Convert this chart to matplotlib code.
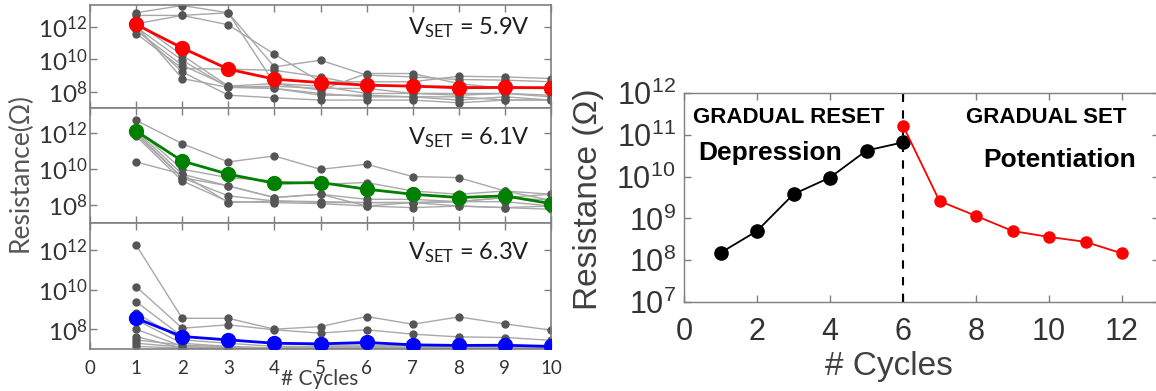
import numpy as np
import matplotlib
matplotlib.use('Agg')
import matplotlib.pyplot as plt
from matplotlib.ticker import LogLocator, NullFormatter

# ---- left panels: log10(resistance) ----
cycles_left = [1, 2, 3, 4, 5, 6, 7, 8, 9, 10]
vset_labels = ['5.9V', '6.1V', '6.3V']

# V_SET = 5.9V
mean_59 = [12.16, 10.71, 9.40, 8.78, 8.57, 8.41, 8.35, 8.25, 8.27, 8.25]
runs_59 = [
    [12.88, 13.33, 12.88, 9.54, 9.95, 9.03, 8.92, 8.76, 8.72, 8.62],
    [12.72, 12.72, 12.14, 10.32, 8.62, 8.62, 8.62, 8.96, 8.92, 8.82],
    [12.20, 12.72, 12.88, 8.51, 8.10, 9.13, 9.13, 8.51, 8.21, 8.21],
    [12.00, 9.95, 8.27, 8.35, 8.21, 8.21, 7.90, 7.79, 7.90, 7.79],
    [11.80, 9.64, 8.35, 8.21, 7.79, 7.79, 7.69, 7.49, 7.69, 7.49],
    [11.60, 9.44, 9.40, 9.33, 8.92, 8.35, 8.35, 8.35, 8.27, 8.27],
    [11.90, 9.23, 7.79, 7.63, 7.49, 7.49, 7.49, 7.32, 7.49, 7.49],
    [12.10, 8.82, 8.27, 8.21, 7.90, 7.69, 7.69, 7.69, 7.49, 7.49],
    [12.30, 10.26, 8.35, 8.51, 8.35, 7.90, 7.90, 7.90, 7.90, 7.69],
]

# V_SET = 6.1V
mean_61 = [12.09, 10.43, 9.70, 9.20, 9.24, 8.87, 8.59, 8.41, 8.50, 8.07]
runs_61 = [
    [12.68, 11.39, 10.38, 10.71, 9.97, 10.25, 9.57, 9.51, 8.77, 8.26],
    [12.20, 9.97, 9.51, 9.33, 9.14, 9.24, 8.77, 8.59, 8.77, 8.59],
    [10.38, 9.70, 9.05, 8.41, 8.59, 8.31, 8.31, 8.18, 8.41, 8.26],
    [12.00, 9.51, 8.50, 8.22, 8.18, 8.13, 8.13, 8.18, 8.18, 7.94],
    [11.80, 9.33, 8.18, 8.13, 8.07, 7.94, 7.85, 7.94, 7.85, 7.76],
    [12.10, 9.70, 8.13, 8.22, 8.13, 8.13, 8.13, 8.18, 8.41, 8.59],
    [11.90, 9.51, 9.05, 8.41, 8.59, 7.94, 8.13, 7.94, 7.85, 7.94],
]

# V_SET = 6.3V
mean_63 = [8.55, 7.63, 7.46, 7.29, 7.26, 7.33, 7.21, 7.18, 7.19, 7.13]
runs_63 = [
    [12.25, 8.55, 8.55, 8.00, 8.13, 8.64, 8.25, 8.62, 8.27, 7.95],
    [10.15, 8.05, 8.22, 7.97, 7.80, 7.97, 7.75, 7.61, 7.58, 7.44],
    [9.39, 7.63, 7.46, 7.29, 7.20, 7.20, 7.15, 7.10, 7.10, 7.10],
    [8.81, 7.46, 7.29, 7.13, 7.13, 7.13, 7.10, 7.10, 7.08, 7.08],
    [8.47, 7.29, 7.13, 7.05, 7.05, 7.10, 7.05, 7.05, 7.05, 7.05],
    [8.00, 7.13, 7.05, 7.03, 7.10, 7.05, 7.03, 7.03, 7.03, 7.03],
    [7.63, 7.05, 7.03, 7.02, 7.02, 7.02, 7.02, 7.02, 7.02, 7.02],
    [7.46, 7.20, 7.10, 7.05, 7.05, 7.05, 7.05, 7.05, 7.05, 7.05],
    [7.29, 7.10, 7.05, 7.02, 7.02, 7.02, 7.02, 7.02, 7.02, 7.02],
    [7.13, 7.05, 7.02, 7.02, 7.02, 7.02, 7.02, 7.02, 7.02, 7.02],
]

# ---- right panel ----
cycles_reset = [1, 2, 3, 4, 5, 6]
res_reset = [1.5e8, 5.0e8, 3.8e9, 9.5e9, 4.2e10, 6.6e10]
cycles_set = [6, 7, 8, 9, 10, 11, 12]
res_set = [1.66e11, 2.6e9, 1.15e9, 5.0e8, 3.6e8, 2.75e8, 1.45e8]

W, H = 1156, 391
fig = plt.figure(figsize=(W / 100, H / 100), dpi=100)

def box(x0, y0, x1, y1):
    # pixel box (top-left origin) -> figure fraction
    return [x0 / W, 1 - y1 / H, (x1 - x0) / W, (y1 - y0) / H]

left_font = ['Lato', 'DejaVu Sans']
right_font = ['Liberation Sans', 'DejaVu Sans']
spine_gray = '#7f7f7f'
label_dark = '#333333'

panels = [
    (box(90, 5, 551, 108), mean_59, runs_59, '#ff0000', 0.71),
    (box(90, 108, 551, 223), mean_61, runs_61, '#008000', 0.68),
    (box(90, 223, 551, 349), mean_63, runs_63, '#0000ff', 0.71),
]

for i, (rect, mean, runs, col, ty) in enumerate(panels):
    ax = fig.add_axes(rect)
    for run in runs:
        ax.plot(cycles_left, 10.0 ** np.array(run), color='#a8a8a8', lw=1,
                marker='o', ms=5, mfc='#555555', mec='#555555', zorder=2)
    ax.plot(cycles_left, 10.0 ** np.array(mean), color=col, lw=2,
            marker='o', ms=10, mfc=col, mec=col, zorder=3)
    ax.set_yscale('log')
    ax.set_xlim(0, 10)
    ax.set_ylim(1e7, 2.3e13)
    ax.set_yticks([1e8, 1e10, 1e12],
                  labels=[r'$\mathregular{10^{8}}$', r'$\mathregular{10^{10}}$',
                          r'$\mathregular{10^{12}}$'])
    ax.yaxis.set_minor_locator(plt.NullLocator())
    ax.set_xticks(range(0, 11))
    ax.tick_params(direction='in', top=True, right=True, length=5, width=1,
                   color=spine_gray, labelcolor=label_dark)
    ax.tick_params(axis='y', labelsize=17.5, pad=2)
    ax.tick_params(axis='x', labelsize=13.5, pad=8)
    for lab in ax.get_yticklabels() + ax.get_xticklabels():
        lab.set_family(left_font)
    if i < 2:
        ax.tick_params(axis='x', labelbottom=False)
    for sp in ax.spines.values():
        sp.set_color(spine_gray)
        sp.set_linewidth(1.2)
    ax.text(0.954, ty, r'$\mathregular{V_{SET}}$ = ' + vset_labels[i],
            transform=ax.transAxes, ha='right', va='baseline',
            fontsize=17, family=left_font, color='#1e1e1e')

fig.text(20 / W, 1 - 172 / H, 'Resistance(Ω)', rotation=90, ha='center',
         va='center', fontsize=19, family=left_font, color='#555555')
fig.text(320 / W, 1 - 379 / H, '# Cycles', ha='center', va='center',
         fontsize=15, family=left_font, color='#404040')

# ---- right panel ----
axr = fig.add_axes(box(684, 93, 1158.5, 302))
axr.plot(cycles_reset, res_reset, color='black', lw=1.3, marker='o', ms=9.5,
         zorder=3)
axr.plot(cycles_set, res_set, color='#ff0000', lw=1.3, marker='o', ms=8,
         zorder=3)
axr.axvline(6, color='black', ls=(0, (4, 4)), lw=1.5, zorder=2)
axr.set_yscale('log')
axr.set_xlim(0, 13)
axr.set_ylim(1e7, 1e12)
axr.set_xticks(range(0, 13, 2))
axr.set_yticks([1e7, 1e8, 1e9, 1e10, 1e11, 1e12],
               labels=[r'$\mathregular{10^{%d}}$' % e for e in range(7, 13)])
axr.yaxis.set_minor_locator(LogLocator(base=10, subs=np.arange(2, 10)))
axr.yaxis.set_minor_formatter(NullFormatter())
axr.tick_params(direction='in', top=True, right=True, length=5, width=1,
                color=spine_gray, labelcolor=label_dark)
axr.tick_params(which='minor', direction='in', right=True, length=2.5,
                width=0.8, color=spine_gray)
axr.tick_params(axis='y', labelsize=22, pad=6)
axr.tick_params(axis='x', labelsize=22, pad=11)
for lab in axr.get_yticklabels() + axr.get_xticklabels():
    lab.set_family(right_font)
for sp in axr.spines.values():
    sp.set_color(spine_gray)
    sp.set_linewidth(1)

axr.text(0.019, 0.856, 'GRADUAL RESET', transform=axr.transAxes, ha='left',
         va='baseline', fontsize=16, fontweight='bold', family=right_font)
axr.text(0.030, 0.679, 'Depression', transform=axr.transAxes, ha='left',
         va='baseline', fontsize=19, fontweight='bold', family=right_font)
axr.text(0.594, 0.856, 'GRADUAL SET', transform=axr.transAxes, ha='left',
         va='baseline', fontsize=16, fontweight='bold', family=right_font)
axr.text(0.630, 0.646, 'Potentiation', transform=axr.transAxes, ha='left',
         va='baseline', fontsize=19, fontweight='bold', family=right_font)

fig.text(588 / W, 1 - 199 / H, 'Resistance (Ω)', rotation=90, ha='center',
         va='center', fontsize=24, family=right_font, color='#404040')
fig.text(889 / W, 1 - 367 / H, '# Cycles', ha='center', va='center',
         fontsize=24, family=right_font, color='#404040')

fig.savefig('out.png', dpi=100)
